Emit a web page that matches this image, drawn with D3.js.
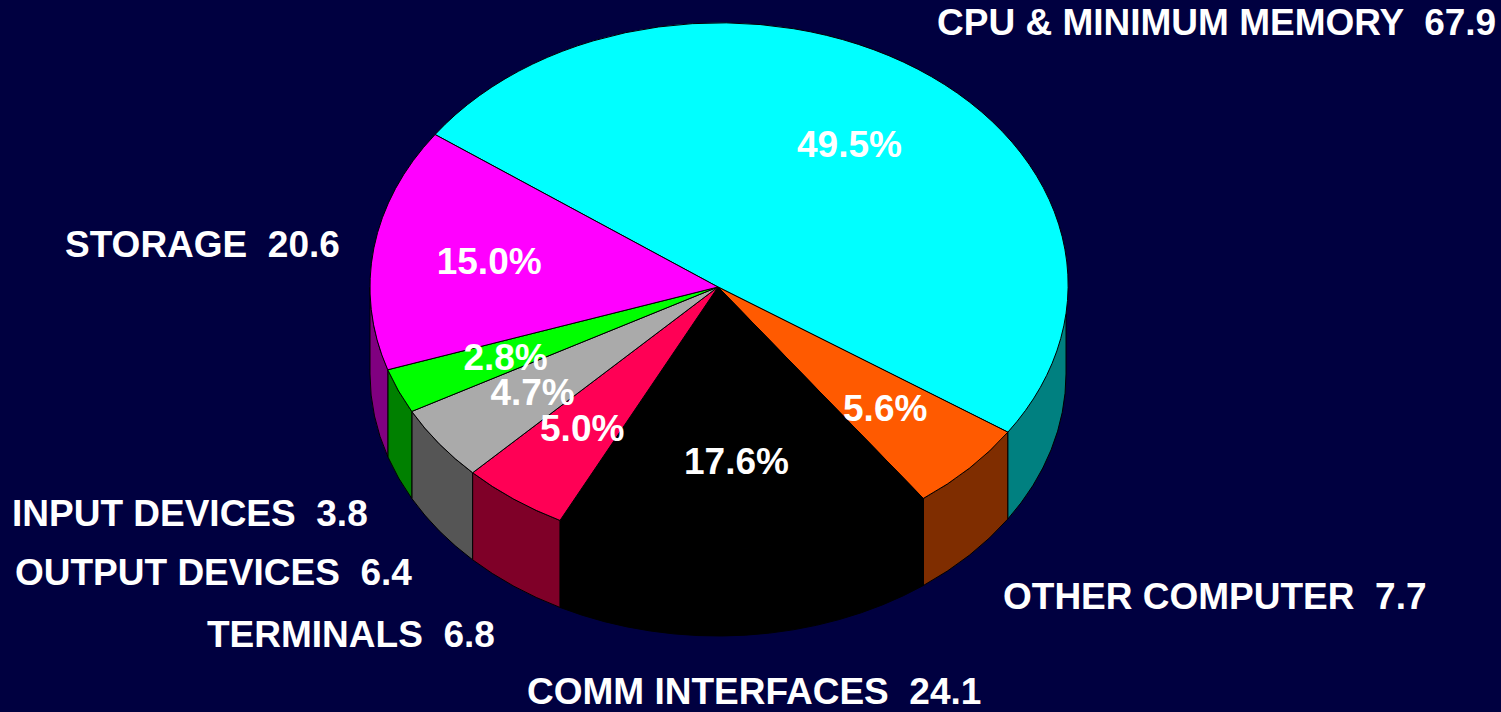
<!DOCTYPE html>
<html>
<head>
<meta charset="utf-8">
<script src="https://cdn.jsdelivr.net/npm/d3@7"></script>
<style>
  html, body { margin: 0; padding: 0; background: #000040; overflow: hidden; }
  text { font-family: "Liberation Sans", Arial, sans-serif; font-weight: bold; fill: #ffffff; white-space: pre; }
</style>
</head>
<body>
<div id="wrapper"></div>
<script>
// data, clockwise from the CPU slice
const categories = ["CPU & MINIMUM MEMORY", "OTHER COMPUTER", "COMM INTERFACES", "TERMINALS", "OUTPUT DEVICES", "INPUT DEVICES", "STORAGE"];
const values = [67.9, 7.7, 24.1, 6.8, 6.4, 3.8, 20.6];

// styles
const topColors = ["#00ffff", "#ff5a00", "#000000", "#ff0055", "#aaaaaa", "#00ff00", "#ff00ff"];
const sideColors = ["#008080", "#7f2d00", "#000000", "#7f0028", "#555555", "#008000", "#800080"];

// outside label positions (left x, baseline)
const labelPos = [[937, 35], [1003, 609], [527, 704], [207, 647], [15, 585], [12, 526], [65, 257]];

function drawChart() {
  // 1. dimensions
  const dimensions = {
    width: 1501,
    height: 712,
    cx: 718,
    cy: 287,
    rx: 348,
    ry: 262,
    depth: 87,
  };

  const dataset = categories.map((c, i) => ({ name: c, value: values[i], i }));
  const total = d3.sum(values);
  const formatPct = d3.format(".1%");

  // 2. canvas
  const wrapper = d3
    .select("#wrapper")
    .append("svg")
    .attr("width", dimensions.width)
    .attr("height", dimensions.height);

  wrapper
    .append("rect")
    .attr("width", dimensions.width)
    .attr("height", dimensions.height)
    .attr("fill", "#000040");

  // 3. pie layout
  const start = (-54.4 * Math.PI) / 180;
  const pie = d3
    .pie()
    .value((d) => d.value)
    .sort(null)
    .startAngle(start)
    .endAngle(start + 2 * Math.PI);
  const arcs = pie(dataset);

  const { cx, cy, rx, ry, depth } = dimensions;
  // screen angle: clockwise from +x
  const pt = (t, dy = 0) => [cx + rx * Math.cos(t), cy + ry * Math.sin(t) + dy];

  // 4. side walls (front half only)
  const walls = wrapper.append("g");
  arcs.forEach((a) => {
    const t0 = Math.max(a.startAngle - Math.PI / 2, 0);
    const t1 = Math.min(a.endAngle - Math.PI / 2, Math.PI);
    if (t1 <= t0) return;
    const p0 = pt(t0), p1 = pt(t1), q1 = pt(t1, depth), q0 = pt(t0, depth);
    const d =
      `M${p0}A${rx},${ry} 0 0 1 ${p1}` +
      `L${q1}A${rx},${ry} 0 0 0 ${q0}Z`;
    walls
      .append("path")
      .attr("d", d)
      .attr("fill", sideColors[a.data.i])
      .attr("stroke", "#000")
      .attr("stroke-width", 1);
  });

  // 5. top face
  const arcGen = d3.arc().innerRadius(0).outerRadius(1);
  wrapper
    .append("g")
    .attr("transform", `translate(${cx},${cy}) scale(${rx},${ry})`)
    .selectAll("path")
    .data(arcs)
    .join("path")
    .attr("d", arcGen)
    .attr("fill", (d) => topColors[d.data.i])
    .attr("stroke", "#000")
    .attr("stroke-width", 1)
    .attr("vector-effect", "non-scaling-stroke");

  // 6. percentage labels
  const f = 0.665;
  wrapper
    .append("g")
    .selectAll("text")
    .data(arcs)
    .join("text")
    .attr("x", (d) => cx + rx * f * Math.cos((d.startAngle + d.endAngle) / 2 - Math.PI / 2))
    .attr("y", (d) => cy + ry * f * Math.sin((d.startAngle + d.endAngle) / 2 - Math.PI / 2))
    .attr("dy", "0.36em")
    .attr("text-anchor", "middle")
    .style("font-size", "37px")
    .text((d) => formatPct(d.data.value / total));

  // 7. category labels
  wrapper
    .append("g")
    .selectAll("text")
    .data(dataset)
    .join("text")
    .attr("x", (d) => labelPos[d.i][0])
    .attr("y", (d) => labelPos[d.i][1])
    .style("font-size", "37px")
    .text((d) => `${d.name}  ${d.value}`);
}
drawChart();
</script>
</body>
</html>
